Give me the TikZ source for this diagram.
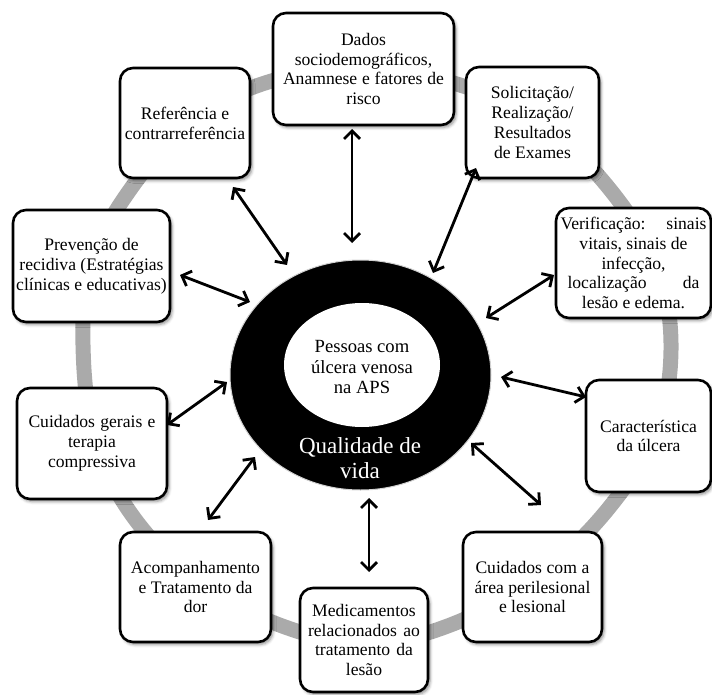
\documentclass[tikz,border=0pt]{standalone}
\usepackage{fontspec}
\setmainfont{Liberation Serif}
\usetikzlibrary{arrows.meta,shadows.blur,shapes.geometric}
\definecolor{ringgray}{RGB}{170,170,170}
\tikzset{
  box/.style={draw=black, line width=2.6pt, rounded corners=13pt, fill=white, align=center,
    inner sep=0pt, font=\fontsize{17.6}{19.8}\selectfont,
    blur shadow={shadow xshift=2pt, shadow yshift=-2.5pt, shadow blur radius=3pt, shadow opacity=45}},
  link/.style={line width=2.8pt, {Straight Barb[length=8pt,width=16pt]}-{Straight Barb[length=8pt,width=16pt]}},
}
\newcommand{\jl}[2]{\makebox[#1][s]{#2}}
\begin{document}
\begin{tikzpicture}[x=1pt,y=-1pt]
\useasboundingbox (0,0) rectangle (712,695);
% gray ring
\draw[ringgray, line width=15pt] plot[smooth cycle, tension=0.7] coordinates {
 (262,84) (460,85) (612,192) (671,350) (608,509) (445,627) (285,627) (132,515) (83,345) (125,197)};
% boxes
\node[box, minimum width=181pt, minimum height=112pt] (dados) at (363.5,69)
 {Dados\\sociodemográficos,\\\jl{161pt}{Anamnese e fatores de}\\risco};
\node[box, minimum width=133pt, minimum height=111pt] (solic) at (532.5,122.5)
 {Solicitação/\\Realização/\\Resultados\\de Exames};
\node[box, minimum width=155pt, minimum height=110pt] (verif) at (633.5,263)
 {\jl{146pt}{Verificação: sinais}\\vitais, sinais de\\infecção,\\\jl{132pt}{localização da}\\lesão e edema.};
\node[box, minimum width=125pt, minimum height=112pt] (carac) at (648.5,436)
 {Característica\\da úlcera};
\node[box, minimum width=139pt, minimum height=110pt] (cuidarea) at (532.5,587)
 {\jl{114pt}{Cuidados com a}\\área perilesional\\e lesional};
\node[box, minimum width=128pt, minimum height=104pt] (medic) at (364,640)
 {Medicamentos\\\jl{112pt}{relacionados ao}\\\jl{98pt}{tratamento da}\\lesão};
\node[box, minimum width=151pt, minimum height=110pt] (acomp) at (195.5,587)
 {Acompanhamento\\\jl{114pt}{e Tratamento da}\\dor};
\node[box, minimum width=150pt, minimum height=111pt] (cuidger) at (92,443.5)
 {\jl{127pt}{Cuidados gerais e}\\terapia\\compressiva};
\node[box, minimum width=157pt, minimum height=112pt] (prev) at (91.5,266)
 {Prevenção de\\recidiva (Estratégias\\clínicas e educativas)};
\node[box, minimum width=130pt, minimum height=110pt] (refer) at (185,123)
 {Referência e\\contrarreferência};
% center
\node[ellipse, fill=black, draw=gray!35, line width=1pt, minimum width=261pt, minimum height=230pt, inner sep=0pt] (core) at (360.5,375) {};
\node[ellipse, fill=white, minimum width=156pt, minimum height=124pt, inner sep=0pt] (inner) at (362,365) {};
\node[align=center, font=\fontsize{18.6}{20.5}\selectfont] (pessoas) at (362,367)
 {Pessoas com\\úlcera venosa\\na APS};
\node[align=center, text=white, font=\fontsize{23}{25.5}\selectfont] (qual) at (360,458)
 {Qualidade de\\vida};
% arrow endpoints
\coordinate (a1o) at (352,129); \coordinate (a1i) at (352,243);
\coordinate (a2o) at (476,168); \coordinate (a2i) at (433,273);
\coordinate (a3o) at (554,275); \coordinate (a3i) at (486,318);
\coordinate (a4o) at (586,397); \coordinate (a4i) at (501,377);
\coordinate (a5o) at (541,505); \coordinate (a5i) at (471,443);
\coordinate (a6o) at (369,572); \coordinate (a6i) at (369,498);
\coordinate (a7o) at (208,520); \coordinate (a7i) at (255,457);
\coordinate (a8o) at (167,425); \coordinate (a8i) at (227,382);
\coordinate (a9o) at (180,275); \coordinate (a9i) at (250,302);
\coordinate (a10o) at (233,187); \coordinate (a10i) at (287,265);
\foreach \k in {1,...,10} {\draw[link] (a\k o) -- (a\k i);}
\end{tikzpicture}
\end{document}
